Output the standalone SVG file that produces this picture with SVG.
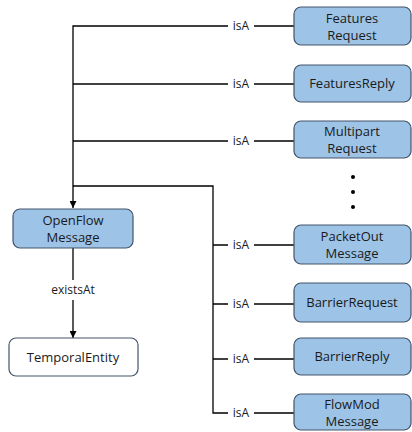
<svg xmlns="http://www.w3.org/2000/svg" width="412" height="432" viewBox="0 0 412 432">
<defs>
<marker id="arr" viewBox="0 0 10 10" refX="10" refY="5" markerWidth="7" markerHeight="7" markerUnits="userSpaceOnUse" orient="auto">
<path d="M0,0 L10,5 L0,10 Z" fill="#000"/>
</marker>
<style>
.box{fill:#9DC3E6;stroke:#44546A;stroke-width:1.2}
.wbox{fill:#fff;stroke:#44546A;stroke-width:1.2}
.t{font-family:"Open Sans","Liberation Sans",sans-serif;font-size:13px;fill:#1a1a1a;text-anchor:middle}
.l{font-family:"Open Sans","Liberation Sans",sans-serif;font-size:12px;fill:#1a1a1a;text-anchor:middle}
.c{fill:none;stroke:#000;stroke-width:1.3}
.lb{fill:#fff}
</style>
</defs>
<rect width="412" height="432" fill="#fff"/>
<g id="connectors">
<path class="c" d="M294,26 H73 V208" marker-end="url(#arr)" stroke-width="2"/>
<path class="c" d="M294,84 H73"/>
<path class="c" d="M294,141 H73"/>
<path class="c" d="M294,413 H213 V186 H73" stroke-width="2"/>
<path class="c" d="M294,245 H213"/>
<path class="c" d="M294,304 H213"/>
<path class="c" d="M294,359 H213"/>
<path class="c" d="M73,248 V338" marker-end="url(#arr)"/>
<rect class="lb" x="228" y="19" width="26" height="14"/>
<text class="l" x="241" y="30">isA</text>
<rect class="lb" x="228" y="77" width="26" height="14"/>
<text class="l" x="241" y="88">isA</text>
<rect class="lb" x="228" y="134" width="26" height="14"/>
<text class="l" x="241" y="145">isA</text>
<rect class="lb" x="228" y="238" width="26" height="14"/>
<text class="l" x="241" y="249">isA</text>
<rect class="lb" x="228" y="297" width="26" height="14"/>
<text class="l" x="241" y="308">isA</text>
<rect class="lb" x="228" y="352" width="26" height="14"/>
<text class="l" x="241" y="363">isA</text>
<rect class="lb" x="228" y="406" width="26" height="14"/>
<text class="l" x="241" y="417">isA</text>
<rect class="lb" x="46" y="280" width="54" height="20"/>
<text class="l" x="73" y="294">existsAt</text>
</g>
<g id="FeaturesRequest"><rect class="box" x="294" y="7" width="117" height="38" rx="7"/><text class="t" x="352" y="23">Features</text><text class="t" x="352" y="40">Request</text></g>
<g id="FeaturesReply"><rect class="box" x="294" y="65" width="117" height="37" rx="7"/><text class="t" x="352" y="88">FeaturesReply</text></g>
<g id="MultipartRequest"><rect class="box" x="294" y="121" width="117" height="37" rx="7"/><text class="t" x="352" y="136">Multipart</text><text class="t" x="352" y="153">Request</text></g>
<g id="dots"><circle cx="353" cy="177" r="2" fill="#000"/><circle cx="353" cy="192" r="2" fill="#000"/><circle cx="353" cy="207" r="2" fill="#000"/></g>
<g id="OpenFlowMessage"><rect class="box" x="13" y="209" width="120" height="39" rx="7"/><text class="t" x="73" y="225">OpenFlow</text><text class="t" x="73" y="242">Message</text></g>
<g id="TemporalEntity"><rect class="wbox" x="9" y="338" width="129" height="38" rx="7"/><text class="t" x="73" y="362">TemporalEntity</text></g>
<g id="PacketOutMessage"><rect class="box" x="294" y="225" width="117" height="39" rx="7"/><text class="t" x="352" y="241">PacketOut</text><text class="t" x="352" y="258">Message</text></g>
<g id="BarrierRequest"><rect class="box" x="294" y="283" width="117" height="39" rx="7"/><text class="t" x="352" y="307">BarrierRequest</text></g>
<g id="BarrierReply"><rect class="box" x="294" y="338" width="117" height="37" rx="7"/><text class="t" x="352" y="361">BarrierReply</text></g>
<g id="FlowModMessage"><rect class="box" x="294" y="394" width="117" height="36" rx="7"/><text class="t" x="352" y="409">FlowMod</text><text class="t" x="352" y="426">Message</text></g>
</svg>
